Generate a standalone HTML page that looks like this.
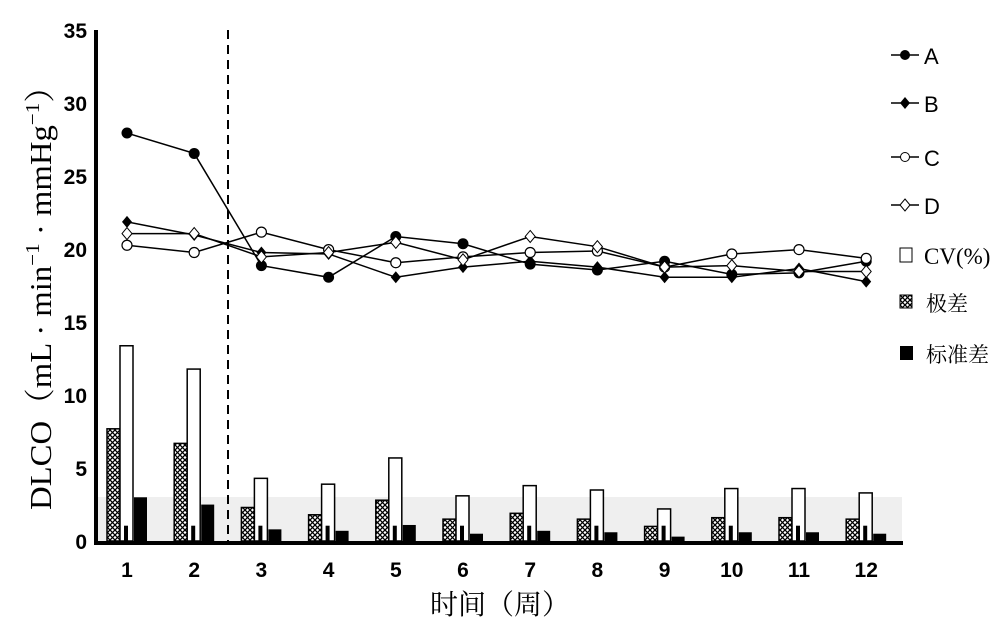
<!DOCTYPE html>
<html><head><meta charset="utf-8"><style>
html,body{margin:0;padding:0;background:#fff;}
svg{display:block;}
</style></head><body>
<svg id="s" width="1000" height="629" viewBox="0 0 1000 629" xmlns="http://www.w3.org/2000/svg">
<defs>
<pattern id="hatch" width="5" height="5" patternUnits="userSpaceOnUse">
<rect width="5" height="5" fill="#fff"/>
<path d="M0,0 L5,5 M5,0 L0,5" stroke="#000" stroke-width="1.3"/>
</pattern>
</defs>
<rect x="96" y="497" width="806" height="44" fill="#efefef"/>
<g id="g"></g>
<line x1="96" y1="30" x2="96" y2="543" stroke="#000" stroke-width="4"/>
<line x1="94" y1="543" x2="903" y2="543" stroke="#000" stroke-width="4"/>
<line x1="228" y1="30" x2="228" y2="541" stroke="#000" stroke-width="2" stroke-dasharray="9,6"/>
<g font-family="Liberation Sans, sans-serif" font-weight="bold" font-size="21" text-anchor="end">
<text x="87" y="549">0</text><text x="87" y="476">5</text><text x="87" y="403">10</text><text x="87" y="330">15</text><text x="87" y="257">20</text><text x="87" y="184">25</text><text x="87" y="111">30</text><text x="87" y="38">35</text>
</g>
<text transform="translate(51,290) rotate(-90)" text-anchor="middle" textLength="440" lengthAdjust="spacingAndGlyphs" font-family="Liberation Serif, 'Noto Serif CJK SC', serif" font-size="31">DLCO（mL · min<tspan dy="-12" font-size="20">−1</tspan><tspan dy="12"> · mmHg</tspan><tspan dy="-12" font-size="20">−1</tspan><tspan dy="12">）</tspan></text>
<text x="500" y="614" text-anchor="middle" font-family="Liberation Serif, 'Noto Serif CJK SC', serif" font-size="28">时间（周）</text>
<g font-family="Liberation Sans, sans-serif" font-size="22">
<line x1="891" y1="55" x2="919" y2="55" stroke="#000" stroke-width="1.5"/><circle cx="905" cy="55" r="5" fill="#000"/><text x="924" y="64">A</text>
<line x1="891" y1="103" x2="919" y2="103" stroke="#000" stroke-width="1.5"/><path d="M905,97 L910,103 L905,109 L900,103Z" fill="#000"/><text x="924" y="112">B</text>
<line x1="891" y1="157" x2="919" y2="157" stroke="#000" stroke-width="1.5"/><circle cx="905" cy="157" r="4.5" fill="#fff" stroke="#000"/><text x="924" y="166">C</text>
<line x1="891" y1="205" x2="919" y2="205" stroke="#000" stroke-width="1.5"/><path d="M905,199 L910,205 L905,211 L900,205Z" fill="#fff" stroke="#000"/><text x="924" y="214">D</text>
<rect x="900" y="248" width="12" height="14" fill="#fff" stroke="#000"/>
<text x="924" y="264" font-family="Liberation Serif, serif" font-size="23">CV(%)</text>
<rect x="900" y="295" width="12" height="13" fill="url(#hatch)" stroke="#000"/>
<text x="926" y="311" font-family="Liberation Serif,'Noto Serif CJK SC', serif" font-size="21">极差</text>
<rect x="900" y="346" width="13" height="14" fill="#000"/>
<text x="926" y="362" font-family="Liberation Serif,'Noto Serif CJK SC', serif" font-size="21">标准差</text>
</g>
</svg>
<script>
var g=document.getElementById('g');var ns='http://www.w3.org/2000/svg';
function X(i){return 127+i*67.2;}function Y(v){return 541-v*14.57;}
function el(t,a){var e=document.createElementNS(ns,t);for(var k in a)e.setAttribute(k,a[k]);g.appendChild(e);return e;}
var CV=[13.4,11.8,4.3,3.9,5.7,3.1,3.8,3.5,2.2,3.6,3.6,3.3];
var R=[7.7,6.7,2.3,1.8,2.8,1.5,1.9,1.5,1.0,1.6,1.6,1.5];
var SD=[3.0,2.5,0.8,0.7,1.1,0.5,0.7,0.6,0.3,0.6,0.6,0.5];
for(var i=0;i<12;i++){var x=X(i);
el('rect',{x:x-20,y:Y(R[i]),width:13,height:R[i]*14.57,fill:'url(#hatch)',stroke:'#000','stroke-width':1.5});
el('rect',{x:x-7,y:Y(CV[i]),width:13,height:CV[i]*14.57,fill:'#fff',stroke:'#000','stroke-width':1.5});
el('rect',{x:x-3,y:Y(1.05),width:4,height:1.05*14.57,fill:'#000'});
el('rect',{x:x+7,y:Y(SD[i]),width:13,height:SD[i]*14.57,fill:'#000'});
var t=el('text',{x:x,y:577,'text-anchor':'middle','font-family':'Liberation Sans, sans-serif','font-weight':'bold','font-size':21});t.textContent=i+1;}
var S={A:[28.0,26.6,18.9,18.1,20.9,20.4,19.0,18.6,19.2,18.3,18.4,19.2],
B:[21.9,21.0,19.8,19.7,18.1,18.8,19.2,18.8,18.1,18.1,18.7,17.8],
C:[20.3,19.8,21.2,20.0,19.1,19.5,19.8,19.9,18.8,19.7,20.0,19.4],
D:[21.1,21.1,19.5,19.8,20.5,19.3,20.9,20.2,18.8,18.9,18.5,18.5]};
for(var k in S){var p=S[k].map(function(v,i){return X(i)+','+Y(v);}).join(' ');
el('polyline',{points:p,fill:'none',stroke:'#000','stroke-width':1.5});}
for(var k in S){S[k].forEach(function(v,i){var x=X(i),y=Y(v);
if(k=='A')el('circle',{cx:x,cy:y,r:5.5,fill:'#000'});
if(k=='C')el('circle',{cx:x,cy:y,r:5,fill:'#fff',stroke:'#000','stroke-width':1.2});
if(k=='B')el('path',{d:'M'+x+','+(y-6)+' L'+(x+5)+','+y+' L'+x+','+(y+6)+' L'+(x-5)+','+y+'Z',fill:'#000'});
if(k=='D')el('path',{d:'M'+x+','+(y-6)+' L'+(x+5)+','+y+' L'+x+','+(y+6)+' L'+(x-5)+','+y+'Z',fill:'#fff',stroke:'#000','stroke-width':1});
});}
</script>
</body></html>
